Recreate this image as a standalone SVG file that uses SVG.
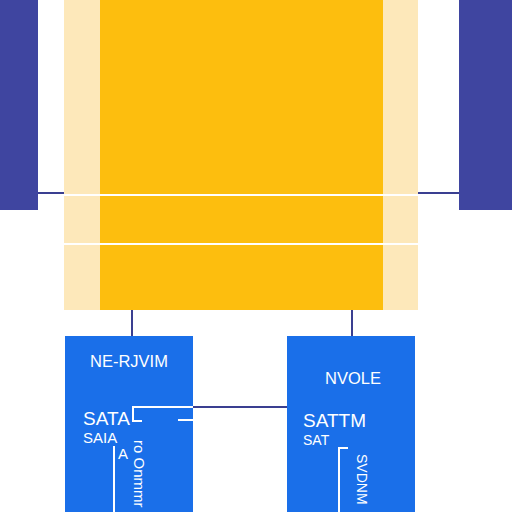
<svg xmlns="http://www.w3.org/2000/svg" width="512" height="512" viewBox="0 0 512 512">
<style>
.side{fill:#3f45a0}
.pale{fill:#fde8ba}
.core{fill:#fdbe0e}
.box{fill:#1a6fe9}
.conn{stroke:#3a3f91;stroke-width:2;fill:none}
.wl{stroke:#ffffff;stroke-width:2;fill:none}
.t{font-family:"Liberation Sans",Arial,sans-serif;fill:#ffffff}
</style>
<rect width="512" height="512" fill="#ffffff"/>
<g id="left-bar"><rect class="side" x="0" y="0" width="38" height="210"/></g>
<g id="right-bar"><rect class="side" x="459" y="0" width="53" height="210"/></g>
<g id="main">
<rect class="pale" x="64" y="0" width="354" height="310"/>
<rect class="core" x="100" y="0" width="283" height="310"/>
<line class="wl" x1="64" y1="195" x2="418" y2="195"/>
<line class="wl" x1="64" y1="244" x2="418" y2="244"/>
</g>
<g id="connectors">
<line class="conn" x1="38" y1="193" x2="64" y2="193"/>
<line class="conn" x1="418" y1="193" x2="459" y2="193"/>
<line class="conn" x1="132" y1="310" x2="132" y2="336"/>
<line class="conn" x1="352" y1="310" x2="352" y2="336"/>
<line class="conn" x1="193" y1="407" x2="287" y2="407"/>
</g>
<g id="node-left">
<rect class="box" x="65" y="336" width="128" height="176"/>
<text class="t" x="90" y="367" font-size="16.5">NE-RJVIM</text>
<text class="t" x="83" y="425" font-size="19">SATA</text>
<text class="t" x="83" y="443" font-size="15">SAIA</text>
<text class="t" x="118" y="459" font-size="15">A</text>
<path class="wl" d="M193 407 H133 V421 H142"/>
<line class="wl" x1="178" y1="420" x2="193" y2="420"/>
<line class="wl" x1="114" y1="446" x2="114" y2="512"/>
<text class="t" font-size="15" transform="translate(134,440) rotate(90)">ro Onmmr</text>
</g>
<g id="node-right">
<rect class="box" x="287" y="336" width="128" height="176"/>
<text class="t" x="325" y="384" font-size="16.5">NVOLE</text>
<text class="t" x="303" y="427" font-size="19">SATTM</text>
<text class="t" x="303" y="445" font-size="14">SAT</text>
<path class="wl" d="M348 448 H339 V512"/>
<text class="t" font-size="14" transform="translate(357,454) rotate(90)">SVDNM</text>
</g>
</svg>
